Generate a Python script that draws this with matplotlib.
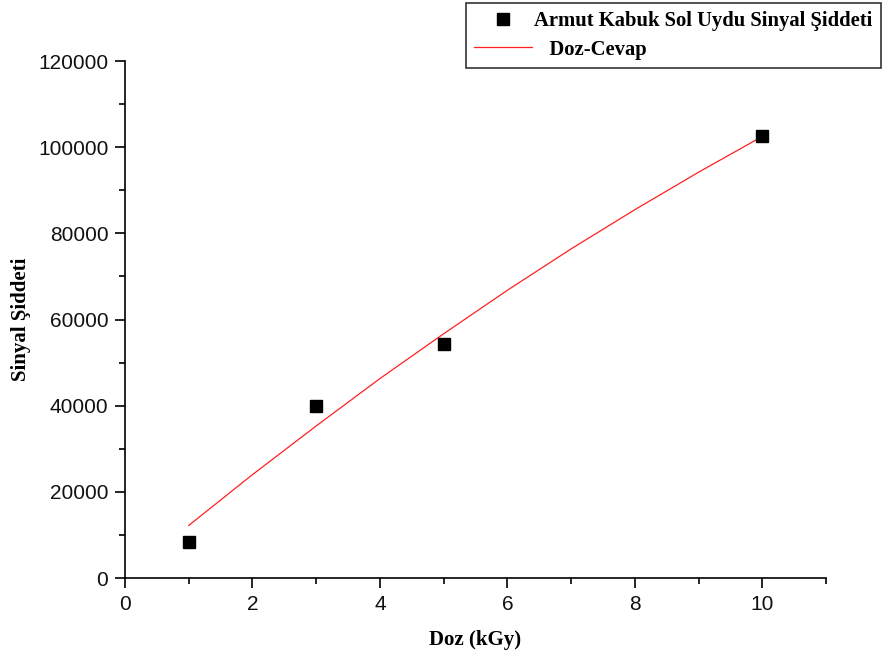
import matplotlib.pyplot as plt
from matplotlib.ticker import MultipleLocator

# measured points
doz = [1, 3, 5, 10]
sinyal = [8400, 40000, 54250, 102700]

# dose-response curve
fit_doz = [1, 2, 3, 4, 5, 6, 7, 8, 9, 10]
fit_sinyal = [12200, 24000, 35300, 46300, 56700, 66800, 76400, 85500, 94200, 102500]

serif = ['Liberation Serif', 'DejaVu Serif']
sans = ['Liberation Sans', 'DejaVu Sans']

fig = plt.figure(figsize=(8.95, 6.59), dpi=100)
ax = fig.add_axes([0.1397, 0.1229, 0.7833, 0.7845])

ax.plot(fit_doz, fit_sinyal, color='#ff2020', lw=0.9, label='   Doz-Cevap', zorder=2)
ax.plot(doz, sinyal, ls='none', marker='s', ms=8.5, color='black',
        label='Armut Kabuk Sol Uydu Sinyal Şiddeti', zorder=3)

ax.set_xlim(0, 11)
ax.set_ylim(0, 120000)
ax.xaxis.set_major_locator(MultipleLocator(2))
ax.xaxis.set_minor_locator(MultipleLocator(1))
ax.yaxis.set_major_locator(MultipleLocator(20000))
ax.yaxis.set_minor_locator(MultipleLocator(10000))

for s in ['top', 'right']:
    ax.spines[s].set_visible(False)
for s in ['left', 'bottom']:
    ax.spines[s].set_linewidth(1.2)
    ax.spines[s].set_clip_on(False)

ax.tick_params(which='major', length=7, width=1.2, labelsize=15, pad=5)
ax.tick_params(which='minor', length=4, width=1.2)
for lab in ax.get_xticklabels() + ax.get_yticklabels():
    lab.set_family(sans)
    lab.set_color('#111111')

ax.set_xlabel('Doz (kGy)', family=serif, fontweight='bold', fontsize=15, labelpad=12)
ax.set_ylabel('Sinyal Şiddeti', family=serif, fontweight='bold', fontsize=15, labelpad=5)

h, l = ax.get_legend_handles_labels()
leg = ax.legend(h[::-1], l[::-1], loc='upper left', bbox_to_anchor=(466 / 895, 1 - 3 / 659),
                bbox_transform=fig.transFigure, frameon=True, fancybox=False,
                edgecolor='black', handlelength=2.8, handletextpad=0.1, labelspacing=0.4,
                borderpad=0.4, borderaxespad=0,
                prop={'family': serif, 'weight': 'bold', 'size': 14.9})
leg.get_frame().set_linewidth(1.2)

fig.savefig('out.png', dpi=100)
